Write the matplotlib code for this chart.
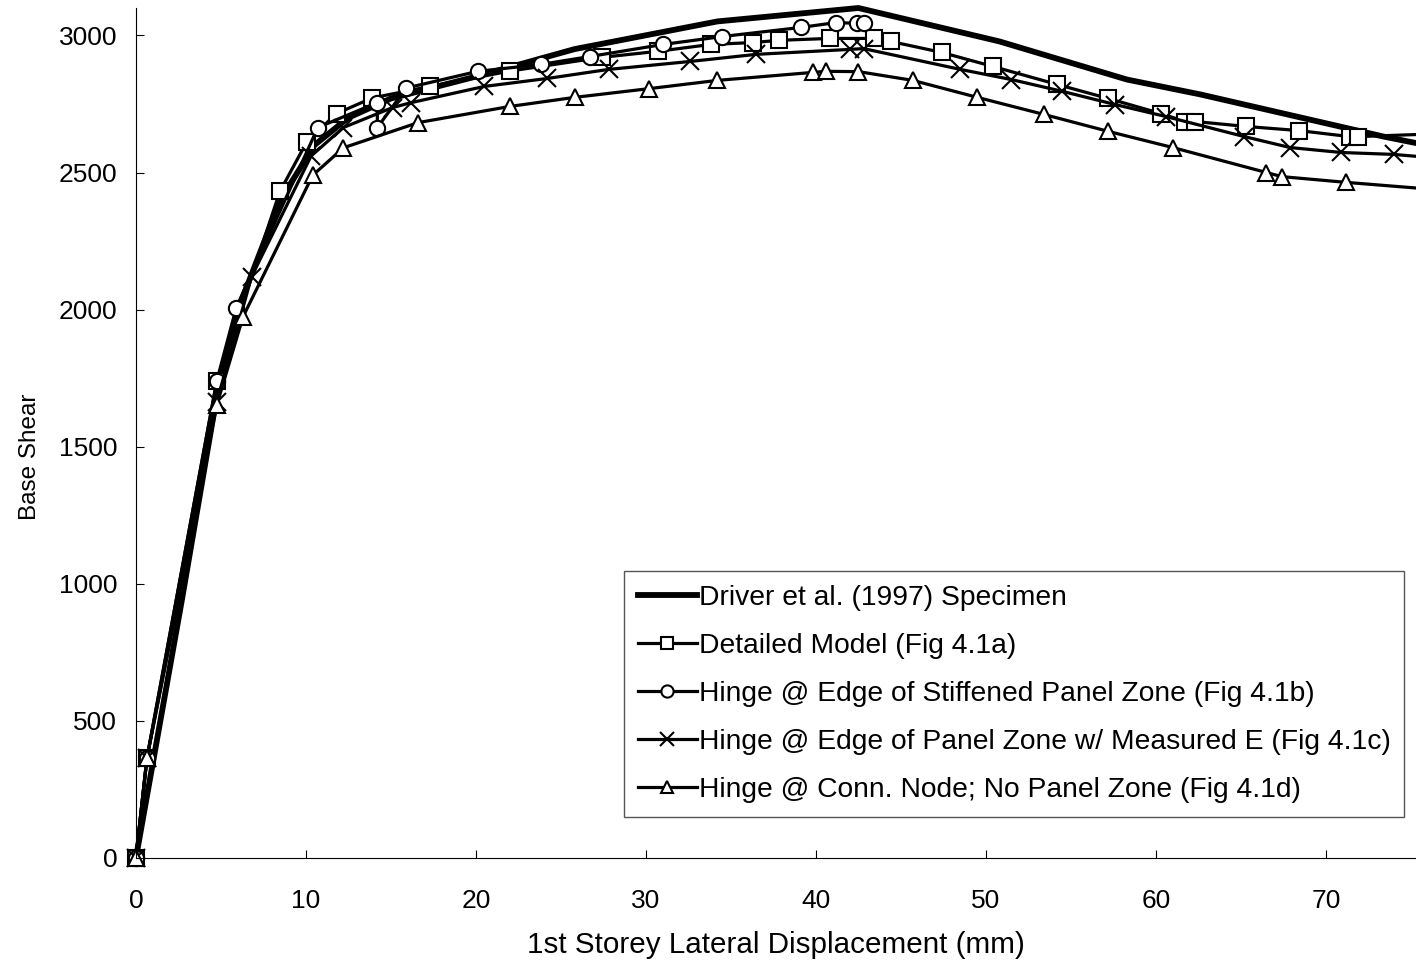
import matplotlib.pyplot as plt

plt.rcParams['font.family'] = ['Liberation Sans', 'DejaVu Sans']

# Driver et al. (1997) Specimen
driver_x = [0, 2.7, 4.8, 6.0, 8.5, 10.5, 12.5, 15.0, 20.0, 25.8, 34.2, 42.5, 50.8, 58.3, 62.6, 73.4, 75.5]
driver_y = [0, 940, 1700, 2000, 2400, 2600, 2700, 2770, 2850, 2950, 3051, 3100, 2978, 2839, 2785, 2631, 2605]

# Detailed Model (Fig 4.1a)
sq_x = [0, 0.65, 4.76, 8.47, 10.06, 11.8, 13.9, 17.3, 22.0, 27.4, 30.7, 33.8, 36.3, 37.8, 40.8, 43.4,
        44.4, 47.4, 50.4, 54.2, 57.2, 60.3, 61.7, 62.3, 65.3, 68.4, 71.4, 71.9, 76.0]
sq_y = [0, 365, 1741, 2431, 2613, 2715, 2772, 2814, 2870, 2920, 2942, 2967, 2974, 2982, 2989, 2989,
        2978, 2938, 2887, 2821, 2770, 2715, 2686, 2686, 2668, 2653, 2631, 2631, 2640]

# Hinge @ Edge of Stiffened Panel Zone (Fig 4.1b)
ci_x = [0, 0.65, 4.76, 5.9, 10.7, 14.2, 14.2, 15.9, 20.1, 23.8, 26.7, 31.0, 34.5, 39.1, 41.2, 42.4, 42.8]
ci_y = [0, 365, 1741, 2007, 2664, 2755, 2664, 2808, 2869, 2894, 2923, 2967, 2996, 3029, 3047, 3044, 3044]

# Hinge @ Edge of Panel Zone w/ Measured E (Fig 4.1c)
x_x = [0, 0.65, 4.76, 6.8, 10.3, 12.2, 15.1, 16.2, 20.5, 24.2, 27.8, 32.6, 36.5, 42.0, 42.8, 48.5,
       51.5, 54.5, 57.6, 60.6, 65.2, 67.9, 70.9, 74.0, 77.0]
x_y = [0, 365, 1664, 2120, 2560, 2664, 2737, 2755, 2814, 2843, 2876, 2905, 2931, 2949, 2952, 2876,
       2839, 2796, 2748, 2704, 2631, 2591, 2573, 2566, 2550]

# Hinge @ Conn. Node; No Panel Zone (Fig 4.1d)
tr_x = [0, 0.65, 4.76, 6.3, 10.4, 12.2, 16.6, 22.0, 25.8, 30.2, 34.2, 39.8, 40.6, 42.5, 45.7, 49.5,
        53.4, 57.2, 61.0, 66.5, 67.4, 71.2, 78.0]
tr_y = [0, 365, 1653, 1974, 2490, 2590, 2682, 2741, 2774, 2806, 2836, 2865, 2869, 2868, 2836, 2774,
        2712, 2650, 2591, 2500, 2485, 2464, 2430]

fig = plt.figure(figsize=(14.16, 9.64), dpi=100)
ax = fig.add_axes([0.096, 0.110, 0.904, 0.8817])

mk = dict(color='black', linewidth=2.3, markersize=11, markerfacecolor='white',
          markeredgecolor='black', markeredgewidth=1.5, clip_on=False)

ax.plot(driver_x, driver_y, color='black', linewidth=4.2, clip_on=False,
        label='Driver et al. (1997) Specimen')
ax.plot(sq_x, sq_y, marker='s', label='Detailed Model (Fig 4.1a)', **mk)
ax.plot(ci_x, ci_y, marker='o', label='Hinge @ Edge of Stiffened Panel Zone (Fig 4.1b)', **mk)
ax.plot(x_x, x_y, marker='x', label='Hinge @ Edge of Panel Zone w/ Measured E (Fig 4.1c)',
        **{**mk, 'markersize': 13})
ax.plot(tr_x, tr_y, marker='^', label='Hinge @ Conn. Node; No Panel Zone (Fig 4.1d)', **mk)

ax.set_xlim(0, 75.3)
ax.set_ylim(0, 3100)
ax.set_xticks(range(0, 80, 10))
ax.set_yticks(range(0, 3500, 500))

for s in ['top', 'right']:
    ax.spines[s].set_visible(False)
for s in ['left', 'bottom']:
    ax.spines[s].set_linewidth(0.8)

ax.tick_params(axis='both', direction='in', length=6, width=0.8, labelsize=19)
ax.tick_params(axis='x', pad=22)
ax.tick_params(axis='y', pad=13.5)

ax.set_xlabel('1st Storey Lateral Displacement (mm)', fontsize=21.3, labelpad=13)
ax.set_ylabel('Base Shear', fontsize=17.5)
ax.yaxis.set_label_coords(-0.074, 0.472)

leg = ax.legend(loc='lower right', bbox_to_anchor=(0.991, 0.048), fontsize=20.3,
                frameon=True, fancybox=False, edgecolor='#555555', framealpha=1,
                handlelength=2.1, handletextpad=0.05, labelspacing=0.78,
                borderpad=0.5, borderaxespad=0, markerscale=0.8)
leg.get_frame().set_linewidth(1.0)

fig.savefig('out.png', dpi=100, facecolor='white')
